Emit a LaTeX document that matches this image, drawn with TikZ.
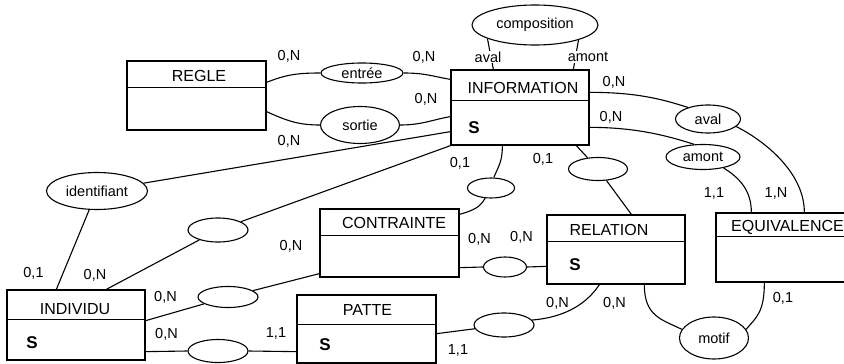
\documentclass[tikz,border=0pt]{standalone}
\usepackage{fontspec}
\setmainfont{Liberation Sans}
\usetikzlibrary{shapes.geometric,calc}
\newcommand\labfont{\fontsize{14.5}{16}\selectfont}
\newcommand\titfont{\fontsize{16}{18}\selectfont}
\newcommand\keyfont{\fontsize{17}{19}\selectfont\bfseries}
\tikzset{
  ent/.style={draw, line width=1.3pt, inner sep=0pt},
  sepline/.style={line width=1.2pt},
  rel/.style={draw, ellipse, inner sep=0pt, line width=1.1pt, font=\labfont},
  conn/.style={line width=1.1pt},
  card/.style={font=\labfont, inner sep=1pt},
  role/.style={font=\labfont, inner sep=1pt, fill=white},
  ttl/.style={font=\titfont, inner sep=0pt},
  key/.style={font=\keyfont, inner sep=0pt}
}
\begin{document}
\begin{tikzpicture}[x=1pt,y=-1pt]
\useasboundingbox (0,0) rectangle (844,364);
\fill[white] (0,0) rectangle (844,364);
\clip (0,0) rectangle (844,364);

% entities
\node[ent, minimum width=139pt, minimum height=69pt] (regle) at (196.5,95.5) {};
\node[ent, minimum width=138pt, minimum height=75pt] (info) at (520,107.5) {};
\node[ent, minimum width=139pt, minimum height=68pt] (contrainte) at (389.5,243) {};
\node[ent, minimum width=138pt, minimum height=69pt] (relation) at (616,249.5) {};
\node[ent, minimum width=144pt, minimum height=69pt] (equivalence) at (788,247.5) {};
\node[ent, minimum width=138pt, minimum height=70pt] (individu) at (76,325) {};
\node[ent, minimum width=139pt, minimum height=68pt] (patte) at (366.5,329) {};

\draw[sepline] ($(regle.north west)+(0,27)$) -- ($(regle.north east)+(0,27)$);
\draw[sepline] ($(info.north west)+(0,31)$) -- ($(info.north east)+(0,31)$);
\draw[sepline] ($(contrainte.north west)+(0,27)$) -- ($(contrainte.north east)+(0,27)$);
\draw[sepline] ($(relation.north west)+(0,27)$) -- ($(relation.north east)+(0,27)$);
\draw[sepline] ($(equivalence.north west)+(0,24)$) -- ($(equivalence.north east)+(0,24)$);
\draw[sepline] ($(individu.north west)+(0,30)$) -- ($(individu.north east)+(0,30)$);
\draw[sepline] ($(patte.north west)+(0,30)$) -- ($(patte.north east)+(0,30)$);

\node[ttl] (tregle) at (199,76) {REGLE};
\node[ttl] (tinfo) at (523,88) {INFORMATION};
\node[ttl] (tcontrainte) at (394,223) {CONTRAINTE};
\node[ttl] (trelation) at (609,230) {RELATION};
\node[ttl, anchor=west] (tequivalence) at (731,227) {EQUIVALENCE};
\node[ttl] (tindividu) at (75,309) {INDIVIDU};
\node[ttl] (tpatte) at (367.5,310) {PATTE};

\node[key] (sinfo) at (474,128) {S};
\node[key] (srelation) at (575,265) {S};
\node[key] (sindividu) at (32,343) {S};
\node[key] (spatte) at (325,345) {S};

% relationships
\node[rel, minimum width=126pt, minimum height=40pt] (composition) at (535,25) {composition};
\node[rel, minimum width=82pt, minimum height=20pt] (entree) at (362,73) {entrée};
\node[rel, minimum width=79pt, minimum height=37pt] (sortie) at (360,125) {sortie};
\node[rel, minimum width=101pt, minimum height=37pt] (identifiant) at (97,191) {identifiant};
\node[rel, minimum width=60pt, minimum height=24pt] (e1) at (218,230) {};
\node[rel, minimum width=60pt, minimum height=21pt] (e2) at (228,297) {};
\node[rel, minimum width=60pt, minimum height=23pt] (e3) at (218,351) {};
\node[rel, minimum width=60pt, minimum height=24pt] (e4) at (504,325) {};
\node[rel, minimum width=47pt, minimum height=20pt] (e5) at (491,188) {};
\node[rel, minimum width=43pt, minimum height=20pt] (e6) at (505,267) {};
\node[rel, minimum width=59pt, minimum height=23pt] (e7) at (598,169) {};
\node[rel, minimum width=65pt, minimum height=28pt] (aval) at (708,119) {aval};
\node[rel, minimum width=74pt, minimum height=25pt] (amont) at (703,157) {amont};
\node[rel, minimum width=69pt, minimum height=42pt] (motif) at (714,338) {motif};

% connectors
\draw[conn] ($(regle.north east)+(0,22)$) .. controls +(20,-8) and +(-22,0) .. (entree.west);
\draw[conn] (entree.east) .. controls +(22,0) and +(-18,-3) .. ($(info.north west)+(0,10)$);
\draw[conn] ($(regle.south east)+(0,-19)$) .. controls +(20,9) and +(-22,0) .. (sortie.west);
\draw[conn] (sortie.east) .. controls +(22,0) and +(-18,3) .. ($(info.south west)+(0,-29)$);
\draw[conn] ($(info.south west)+(0,-14)$) -- (identifiant);
\draw[conn] ($(individu.north west)+(50,0)$) -- (identifiant);
\draw[conn] ($(individu.north west)+(100,0)$) -- (e1);
\draw[conn] (e1) -- (info.south west);
\draw[conn] ($(individu.south east)+(0,-40)$) -- (e2);
\draw[conn] (e2) -- ($(contrainte.south west)+(0,-4)$);
\draw[conn] ($(individu.south east)+(0,-9)$) -- (e3.west);
\draw[conn] (e3.east) -- ($(patte.south west)+(0,-12)$);
\draw[conn] ($(patte.south east)+(0,-30)$) -- (e4);
\draw[conn] (e4.10) .. controls +(35,-3) and +(-12,18) .. ($(relation.south west)+(53,0)$);
\draw[conn] ($(contrainte.north east)+(0,6)$) .. controls +(14,-4) and +(-5,9) .. (e5.240);
\draw[conn] (e5.75) .. controls +(5,-12) and +(0,16) .. ($(info.south west)+(52,0)$);
\draw[conn] ($(contrainte.south east)+(0,-10)$) -- (e6.west);
\draw[conn] (e6.east) -- ($(relation.north west)+(0,52)$);
\draw[conn] ($(info.south west)+(126,0)$) -- (e7);
\draw[conn] (e7) -- ($(relation.north west)+(85,0)$);
\draw[conn] ($(info.north east)+(0,23)$) .. controls +(45,0) and +(-28,-9) .. (aval.150);
\draw[conn] ($(info.north east)+(0,58)$) .. controls +(45,0) and +(-28,-9) .. (amont.125);
\draw[conn] (aval.345) .. controls +(28,14) and +(0,-40) .. ($(equivalence.north west)+(89,0)$);
\draw[conn] (amont.332) .. controls +(16,10) and +(0,-22) .. ($(equivalence.north west)+(36,0)$);
\draw[conn] ($(relation.south west)+(98,0)$) .. controls +(0,32) and +(-20,-10) .. (motif.165);
\draw[conn] ($(equivalence.south west)+(49,0)$) .. controls +(0,30) and +(10,-12) .. (motif.15);
\draw[conn] (composition.196) -- ($(info.north west)+(43,0)$);
\draw[conn] (composition.341) -- ($(info.north west)+(123,0)$);

% role labels
\node[role] (raval) at (488,57) {aval};
\node[role] (ramont) at (588,57) {amont};

% cardinalities
\node[card] (c1) at (289,56) {0,N};
\node[card] (c2) at (424,57) {0,N};
\node[card] (c3) at (426,99) {0,N};
\node[card] (c4) at (289,141) {0,N};
\node[card] (c5) at (460,163) {0,1};
\node[card] (c6) at (543,159) {0,1};
\node[card] (c7) at (614,82) {0,N};
\node[card] (c8) at (611,117) {0,N};
\node[card] (c9) at (714,193) {1,1};
\node[card] (c10) at (776,193) {1,N};
\node[card] (c11) at (479.5,239) {0,N};
\node[card] (c12) at (521.5,237) {0,N};
\node[card] (c13) at (291,246) {0,N};
\node[card] (c14) at (33.5,273) {0,1};
\node[card] (c15) at (95,275) {0,N};
\node[card] (c16) at (165.5,297) {0,N};
\node[card] (c17) at (166.5,334) {0,N};
\node[card] (c18) at (276,333) {1,1};
\node[card] (c19) at (458,350) {1,1};
\node[card] (c20) at (557.5,303) {0,N};
\node[card] (c21) at (614.5,303) {0,N};
\node[card] (c22) at (783,298) {0,1};
\end{tikzpicture}
\end{document}
